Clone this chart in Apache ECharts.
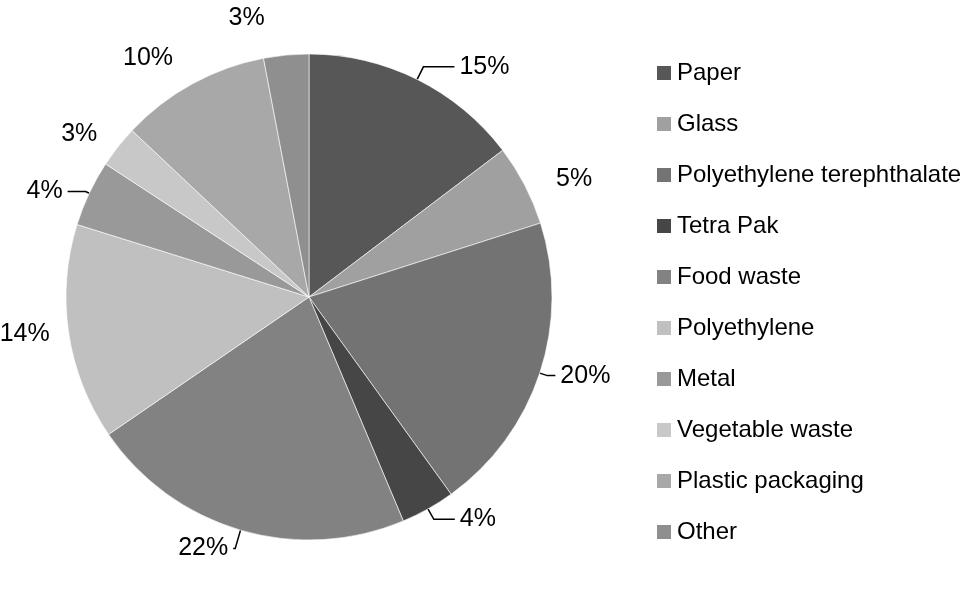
<!DOCTYPE html>
<html>
<head>
<meta charset="utf-8">
<script src="https://cdn.jsdelivr.net/npm/echarts@6/dist/echarts.min.js"></script>
<style>
  html, body { margin: 0; padding: 0; background: #fff; }
  #chart { width: 969px; height: 590px; }
</style>
</head>
<body>
<div id="chart"></div>
<script>
const categories = ['Paper', 'Glass', 'Polyethylene terephthalate', 'Tetra Pak', 'Food waste',
  'Polyethylene', 'Metal', 'Vegetable waste', 'Plastic packaging', 'Other']
const shares = [14.7, 5.4, 20.0, 3.6, 21.8, 14.4, 4.4, 2.8, 10.0, 3.0]
const sliceColors = ['#575757', '#a0a0a0', '#737373', '#464646', '#828282',
  '#c0c0c0', '#999999', '#c8c8c8', '#a8a8a8', '#8f8f8f']
// leader lines as placed in the original (only some are drawn)
const withLine = [true, false, true, true, true, false, true, false, false, false]
const lineLen = [14, 14, 8, 12, 19, 5, 4, 20, 29, 37]
const lineLen2 = [31, 14, 8, 21, 2, 9, 18, 0, 0, 13]

const total = shares.reduce((a, b) => a + b, 0)
const fontFamily = '"Liberation Sans", Arial, sans-serif'

const chart = echarts.init(document.getElementById('chart'))
chart.setOption({
  animation: false,
  color: sliceColors,
  legend: {
    orient: 'vertical',
    left: 650,
    top: 56,
    icon: 'rect',
    itemWidth: 16,
    itemHeight: 16,
    itemGap: 27,
    textStyle: { fontFamily: fontFamily, fontSize: 24, color: '#000', lineHeight: 24 },
    data: categories
  },
  series: [
    {
      type: 'pie',
      center: [309, 297],
      radius: 243,
      startAngle: 90,
      clockwise: true,
      avoidLabelOverlap: false,
      itemStyle: { borderColor: '#fff', borderWidth: 0.6 },
      label: {
        show: true,
        position: 'outside',
        fontFamily: fontFamily,
        fontSize: 25,
        color: '#000',
        formatter: (p) => Math.round((p.value / total) * 100) + '%'
      },
      labelLine: {
        show: true,
        lineStyle: { color: '#000', width: 1.5 }
      },
      data: categories.map((name, i) => ({
        name: name,
        value: shares[i],
        labelLine: { show: withLine[i], length: lineLen[i], length2: lineLen2[i] }
      }))
    }
  ]
})
</script>
</body>
</html>
